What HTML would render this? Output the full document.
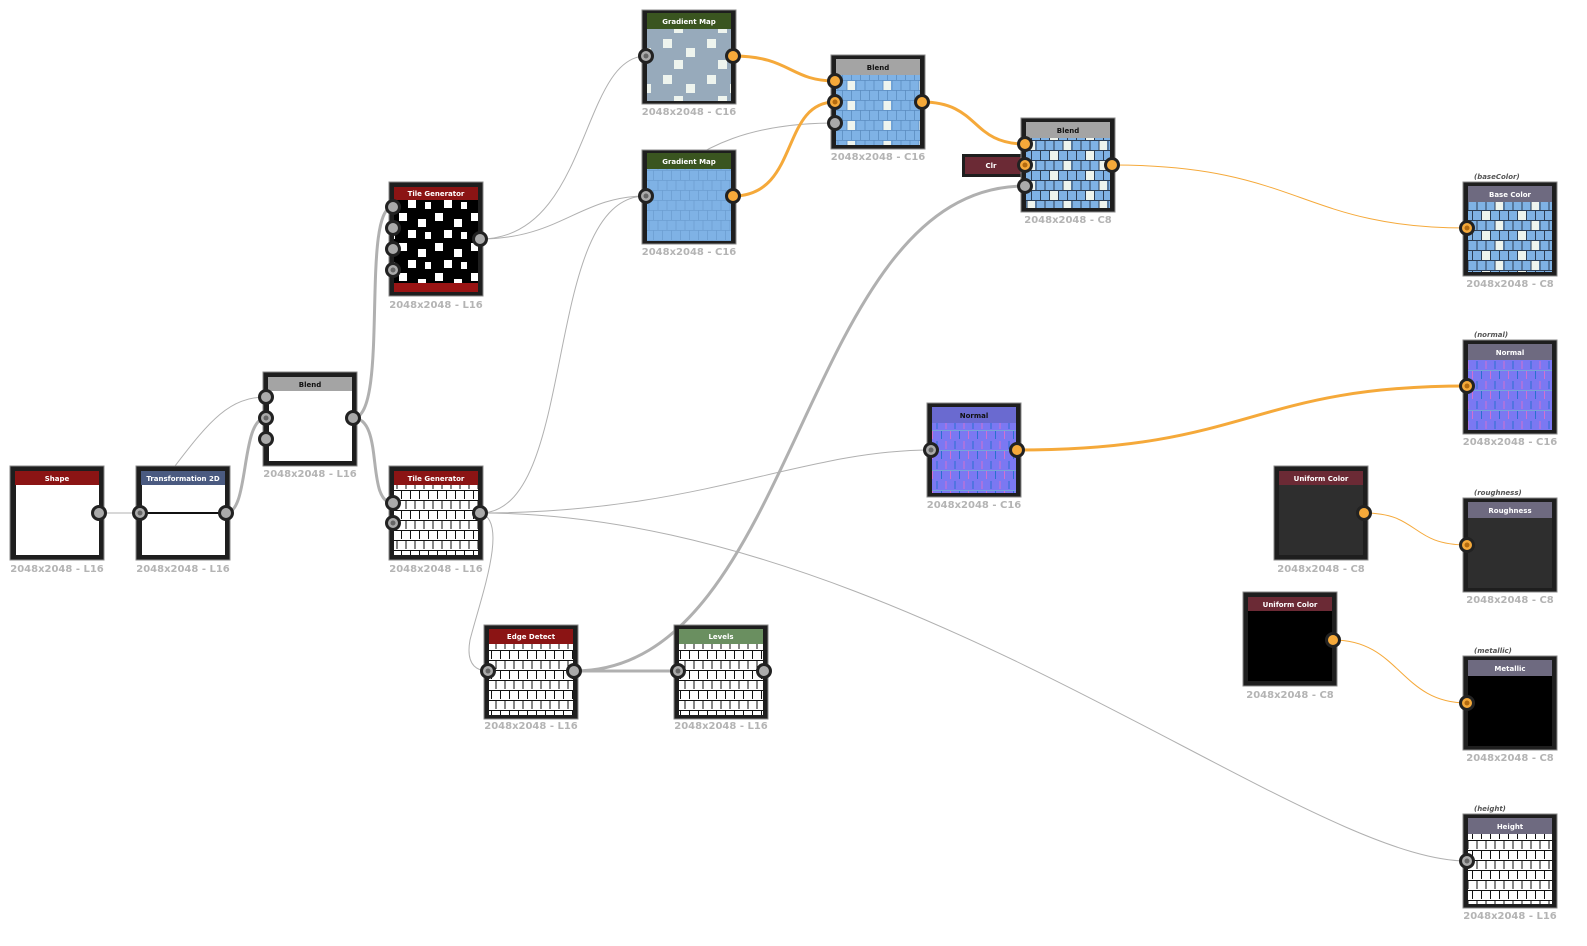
<!DOCTYPE html>
<html><head><meta charset="utf-8"><style>
html,body{margin:0;padding:0;background:#fff;width:1587px;height:946px;overflow:hidden}
svg{display:block;font-family:"DejaVu Sans","Liberation Sans",sans-serif}
.h{font-size:7px;font-weight:bold;fill:#fff;text-anchor:middle}
.hd{font-size:7px;font-weight:bold;fill:#111;text-anchor:middle}
.lb{font-size:10px;font-weight:bold;fill:#b4b4b4;text-anchor:middle}
.ol{font-size:7px;font-style:italic;font-weight:bold;fill:#555;}
.p{fill:#aaa;stroke:#222;stroke-width:3}
.po{fill:#f5a93a;stroke:#222;stroke-width:3}
.dot{fill:#666}
.doto{fill:#b26a10}
.tg{fill:none;stroke:#b0b0b0;stroke-width:1}
.TG{fill:none;stroke:#b0b0b0;stroke-width:3}
.to{fill:none;stroke:#f5a93a;stroke-width:1}
.TO{fill:none;stroke:#f5a93a;stroke-width:3}
.fr{fill:#1e1e1e;stroke:#888;stroke-width:1}
</style></head><body>
<svg width="1587" height="946" viewBox="0 0 1587 946">
<defs>
<pattern id="bw" width="18" height="20" patternUnits="userSpaceOnUse">
<rect width="18" height="20" fill="#fff"/>
<path d="M0 0.5H18M0 10.5H18M1 0V9M10 0V9M5.5 10V19M14.5 10V19" stroke="#111" stroke-width="1"/>
</pattern>
<pattern id="bb" width="36" height="20" patternUnits="userSpaceOnUse">
<rect width="36" height="20" fill="#7fb2e5"/>
<rect x="19" y="1" width="8" height="9" fill="#eef4ee"/>
<rect x="6" y="11" width="8" height="9" fill="#eef4ee"/>
<path d="M0 0.5H36M0 10.5H36M1 0V10M10 0V10M19 0V10M28 0V10M5.5 10V20M14.5 10V20M23.5 10V20M32.5 10V20" stroke="#2c3e55" stroke-width="1"/>
</pattern>
<pattern id="bb2" width="36" height="20" patternUnits="userSpaceOnUse">
<rect width="36" height="20" fill="#7fb2e5"/>
<rect x="19" y="1" width="8" height="9" fill="#eef4ee"/>
<path d="M0 0.5H36M0 10.5H36M1 0V10M10 0V10M19 0V10M28 0V10M5.5 10V20M14.5 10V20M23.5 10V20M32.5 10V20" stroke="#5b8cc0" stroke-width="0.8"/>
</pattern>
<pattern id="gmb" width="36" height="20" patternUnits="userSpaceOnUse">
<rect width="36" height="20" fill="#7fb2e5"/>
<path d="M0 0.5H36M0 10.5H36M1 0V10M10 0V10M19 0V10M28 0V10M5.5 10V20M14.5 10V20M23.5 10V20M32.5 10V20" stroke="#6c9ed2" stroke-width="0.8"/>
</pattern>
<pattern id="gg" width="44" height="36" patternUnits="userSpaceOnUse">
<rect width="44" height="36" fill="#97aabb"/>
<rect x="3" y="3" width="9" height="9" fill="#eef4ee"/>
<rect x="26" y="12" width="9" height="9" fill="#eef4ee"/>
<rect x="14" y="24" width="9" height="9" fill="#eef4ee"/>
</pattern>
<pattern id="bk" width="36" height="30" patternUnits="userSpaceOnUse">
<rect width="36" height="30" fill="#000"/>
<rect x="3" y="3" width="8" height="8" fill="#fff"/>
<rect x="22" y="9" width="8" height="8" fill="#fff"/>
<rect x="12" y="20" width="8" height="8" fill="#fff"/>
<rect x="29" y="22" width="6" height="7" fill="#fff"/>
</pattern>
<pattern id="nm" width="18" height="20" patternUnits="userSpaceOnUse">
<rect width="18" height="20" fill="#7b78f2"/>
<path d="M1 1V9M5.5 11V19" stroke="#2a6fd0" stroke-width="1"/>
<path d="M10 1V9M14.5 11V19" stroke="#d070d0" stroke-width="1"/>
<path d="M0 10.5H18" stroke="#70d0c0" stroke-width="0.6"/>
</pattern>
</defs>

<!-- edges -->
<path class="tg" d="M99 513 C120 513,120 513,140 513"/>
<path class="tg" d="M175 466 C210 420,230 397,266 397"/>
<path class="TG" d="M226 513 C250 513,240 418,266 418"/>
<path class="TG" d="M353 418 C390 418,360 207,393 207"/>
<path class="TG" d="M353 418 C385 418,365 503,393 503"/>
<path class="tg" d="M480 239 C590 239,580 56,646 56"/>
<path class="tg" d="M480 239 C560 239,580 196,646 196"/>
<path class="tg" d="M480 513 C580 513,540 196,646 196"/>
<path class="tg" d="M646 196 C700 140,760 123,835 123"/>
<path class="tg" d="M480 513 C700 513,800 450,931 450"/>
<path class="tg" d="M480 513 C900 513,1300 861,1467 861"/>
<path class="tg" d="M480 513 C510 520,480 600,470 640 C465 668,480 671,488 671"/>
<path class="TG" d="M574 671 C620 671,640 671,678 671"/>
<path class="TG" d="M574 671 C800 671,800 186,1025 186"/>
<path class="TO" d="M733 56 C790 56,790 81,835 81"/>
<path class="TO" d="M733 196 C800 196,780 102,835 102"/>
<path class="TO" d="M922 102 C980 102,970 144,1025 144"/>
<path class="to" d="M1112 165 C1300 165,1300 228,1467 228"/>
<path class="TO" d="M1017 450 C1250 450,1250 386,1467 386"/>
<path class="to" d="M1364 513 C1420 513,1410 545,1467 545"/>
<path class="to" d="M1333 640 C1400 640,1400 703,1467 703"/>

<!-- Shape -->
<rect class="fr" x="10" y="466" width="94" height="94"/>
<rect x="15" y="471" width="84" height="14" fill="#8b1414"/>
<text class="h" x="57" y="481">Shape</text>
<rect x="16" y="485" width="83" height="70" fill="#fff"/>
<text class="lb" x="57" y="572">2048x2048 - L16</text>
<!-- T2D -->
<rect class="fr" x="136" y="466" width="94" height="94"/>
<rect x="141" y="471" width="84" height="14" fill="#4a5a80"/>
<text class="h" x="183" y="481">Transformation 2D</text>
<rect x="142" y="485" width="83" height="70" fill="#fff"/>
<path d="M142 513H225" stroke="#111" stroke-width="2"/>
<text class="lb" x="183" y="572">2048x2048 - L16</text>
<!-- Blend1 -->
<rect class="fr" x="263" y="372" width="94" height="94"/>
<rect x="268" y="377" width="84" height="14" fill="#a4a4a4"/>
<text class="hd" x="310" y="387">Blend</text>
<rect x="269" y="391" width="83" height="70" fill="#fff"/>
<text class="lb" x="310" y="477">2048x2048 - L16</text>
<!-- TG1 -->
<rect class="fr" x="389" y="182" width="94" height="114"/>
<rect x="394" y="187" width="84" height="13" fill="#8b1414"/>
<text class="h" x="436" y="196">Tile Generator</text>
<rect x="394" y="200" width="84" height="83" fill="url(#bk)"/>
<rect x="394" y="283" width="84" height="9" fill="#9a1414"/>
<text class="lb" x="436" y="308">2048x2048 - L16</text>
<!-- TG2 -->
<rect class="fr" x="389" y="466" width="94" height="94"/>
<rect x="394" y="471" width="84" height="14" fill="#8b1414"/>
<text class="h" x="436" y="481">Tile Generator</text>
<rect x="394" y="485" width="84" height="70" fill="url(#bw)"/>
<text class="lb" x="436" y="572">2048x2048 - L16</text>
<!-- GM1 -->
<rect class="fr" x="642" y="10" width="94" height="94"/>
<rect x="647" y="13" width="84" height="16" fill="#3a5520"/>
<text class="h" x="689" y="24">Gradient Map</text>
<rect x="647" y="29" width="84" height="72" fill="url(#gg)"/>
<text class="lb" x="689" y="115">2048x2048 - C16</text>
<!-- GM2 -->
<rect class="fr" x="642" y="150" width="94" height="94"/>
<rect x="647" y="153" width="84" height="16" fill="#3a5520"/>
<text class="h" x="689" y="164">Gradient Map</text>
<rect x="647" y="169" width="84" height="72" fill="url(#gmb)"/>
<text class="lb" x="689" y="255">2048x2048 - C16</text>
<!-- Blend2 -->
<rect class="fr" x="831" y="55" width="94" height="94"/>
<rect x="836" y="59" width="84" height="16" fill="#a4a4a4"/>
<text class="hd" x="878" y="70">Blend</text>
<rect x="836" y="75" width="84" height="70" fill="url(#bb2)"/>
<text class="lb" x="878" y="160">2048x2048 - C16</text>
<!-- Blend3 -->
<rect x="962" y="154" width="62" height="23" fill="#1e1e1e"/>
<rect x="965" y="157" width="56" height="17" fill="#6b2a35"/>
<text class="h" x="991" y="168">Clr</text>
<rect class="fr" x="1021" y="118" width="94" height="94"/>
<rect x="1026" y="122" width="84" height="16" fill="#a4a4a4"/>
<text class="hd" x="1068" y="133">Blend</text>
<rect x="1026" y="138" width="84" height="70" fill="url(#bb)"/>
<text class="lb" x="1068" y="223">2048x2048 - C8</text>
<!-- Normal mid -->
<rect class="fr" x="927" y="403" width="94" height="94"/>
<rect x="932" y="407" width="84" height="16" fill="#6a6ad0"/>
<text class="hd" x="974" y="418">Normal</text>
<rect x="932" y="423" width="84" height="70" fill="url(#nm)"/>
<text class="lb" x="974" y="508">2048x2048 - C16</text>
<!-- Edge detect -->
<rect class="fr" x="484" y="625" width="94" height="94"/>
<rect x="489" y="629" width="84" height="15" fill="#8b1414"/>
<text class="h" x="531" y="639">Edge Detect</text>
<rect x="489" y="644" width="84" height="71" fill="url(#bw)"/>
<text class="lb" x="531" y="729">2048x2048 - L16</text>
<!-- Levels -->
<rect class="fr" x="674" y="625" width="94" height="94"/>
<rect x="679" y="629" width="84" height="15" fill="#6a8f60"/>
<text class="h" x="721" y="639">Levels</text>
<rect x="679" y="644" width="84" height="71" fill="url(#bw)"/>
<text class="lb" x="721" y="729">2048x2048 - L16</text>
<!-- UC1 -->
<rect class="fr" x="1274" y="466" width="94" height="94"/>
<rect x="1279" y="471" width="84" height="14" fill="#6b2a35"/>
<text class="h" x="1321" y="481">Uniform Color</text>
<rect x="1279" y="485" width="84" height="70" fill="#2e2e2e"/>
<text class="lb" x="1321" y="572">2048x2048 - C8</text>
<!-- UC2 -->
<rect class="fr" x="1243" y="592" width="94" height="94"/>
<rect x="1248" y="597" width="84" height="14" fill="#6b2a35"/>
<text class="h" x="1290" y="607">Uniform Color</text>
<rect x="1248" y="611" width="84" height="70" fill="#000"/>
<text class="lb" x="1290" y="698">2048x2048 - C8</text>

<!-- Outputs -->
<text class="ol" x="1474" y="179">(baseColor)</text>
<rect class="fr" x="1463" y="182" width="94" height="94"/>
<rect x="1468" y="186" width="84" height="16" fill="#6e6a80"/>
<text class="h" x="1510" y="197">Base Color</text>
<rect x="1468" y="202" width="84" height="70" fill="url(#bb)"/>
<text class="lb" x="1510" y="287">2048x2048 - C8</text>

<text class="ol" x="1474" y="337">(normal)</text>
<rect class="fr" x="1463" y="340" width="94" height="94"/>
<rect x="1468" y="344" width="84" height="16" fill="#6e6a80"/>
<text class="h" x="1510" y="355">Normal</text>
<rect x="1468" y="360" width="84" height="70" fill="url(#nm)"/>
<text class="lb" x="1510" y="445">2048x2048 - C16</text>

<text class="ol" x="1474" y="495">(roughness)</text>
<rect class="fr" x="1463" y="498" width="94" height="94"/>
<rect x="1468" y="502" width="84" height="16" fill="#6e6a80"/>
<text class="h" x="1510" y="513">Roughness</text>
<rect x="1468" y="518" width="84" height="70" fill="#2e2e2e"/>
<text class="lb" x="1510" y="603">2048x2048 - C8</text>

<text class="ol" x="1474" y="653">(metallic)</text>
<rect class="fr" x="1463" y="656" width="94" height="94"/>
<rect x="1468" y="660" width="84" height="16" fill="#6e6a80"/>
<text class="h" x="1510" y="671">Metallic</text>
<rect x="1468" y="676" width="84" height="70" fill="#000"/>
<text class="lb" x="1510" y="761">2048x2048 - C8</text>

<text class="ol" x="1474" y="811">(height)</text>
<rect class="fr" x="1463" y="814" width="94" height="94"/>
<rect x="1468" y="818" width="84" height="16" fill="#6e6a80"/>
<text class="h" x="1510" y="829">Height</text>
<rect x="1468" y="834" width="84" height="70" fill="url(#bw)"/>
<text class="lb" x="1510" y="919">2048x2048 - L16</text>

<!-- ports -->
<circle class="p" cx="99" cy="513" r="6.5"/>
<circle class="p" cx="140" cy="513" r="6.5"/><circle class="dot" cx="140" cy="513" r="2.5"/>
<circle class="p" cx="226" cy="513" r="6.5"/>
<circle class="p" cx="266" cy="397" r="6.5"/>
<circle class="p" cx="266" cy="418" r="6.5"/><circle class="dot" cx="266" cy="418" r="2.5"/>
<circle class="p" cx="266" cy="439" r="6.5"/>
<circle class="p" cx="353" cy="418" r="6.5"/>
<circle class="p" cx="393" cy="207" r="6.5"/>
<circle class="p" cx="393" cy="228" r="6.5"/>
<circle class="p" cx="393" cy="249" r="6.5"/>
<circle class="p" cx="393" cy="270" r="6.5"/><circle class="dot" cx="393" cy="270" r="2.5"/>
<circle class="p" cx="480" cy="239" r="6.5"/>
<circle class="p" cx="393" cy="503" r="6.5"/>
<circle class="p" cx="393" cy="523" r="6.5"/><circle class="dot" cx="393" cy="523" r="2.5"/>
<circle class="p" cx="480" cy="513" r="6.5"/>
<circle class="p" cx="646" cy="56" r="6.5"/><circle class="dot" cx="646" cy="56" r="2.5"/>
<circle class="po" cx="733" cy="56" r="6.5"/>
<circle class="p" cx="646" cy="196" r="6.5"/><circle class="dot" cx="646" cy="196" r="2.5"/>
<circle class="po" cx="733" cy="196" r="6.5"/>
<circle class="po" cx="835" cy="81" r="6.5"/>
<circle class="po" cx="835" cy="102" r="6.5"/><circle class="doto" cx="835" cy="102" r="2.5"/>
<circle class="p" cx="835" cy="123" r="6.5"/>
<circle class="po" cx="922" cy="102" r="6.5"/>
<circle class="po" cx="1025" cy="144" r="6.5"/>
<circle class="po" cx="1025" cy="165" r="6.5"/><circle class="doto" cx="1025" cy="165" r="2.5"/>
<circle class="p" cx="1025" cy="186" r="6.5"/>
<circle class="po" cx="1112" cy="165" r="6.5"/>
<circle class="p" cx="931" cy="450" r="6.5"/><circle class="dot" cx="931" cy="450" r="2.5"/>
<circle class="po" cx="1017" cy="450" r="6.5"/>
<circle class="p" cx="488" cy="671" r="6.5"/><circle class="dot" cx="488" cy="671" r="2.5"/>
<circle class="p" cx="574" cy="671" r="6.5"/>
<circle class="p" cx="678" cy="671" r="6.5"/><circle class="dot" cx="678" cy="671" r="2.5"/>
<circle class="p" cx="764" cy="671" r="6.5"/>
<circle class="po" cx="1364" cy="513" r="6.5"/>
<circle class="po" cx="1333" cy="640" r="6.5"/>
<circle class="po" cx="1467" cy="228" r="6.5"/><circle class="doto" cx="1467" cy="228" r="2.5"/>
<circle class="po" cx="1467" cy="386" r="6.5"/><circle class="doto" cx="1467" cy="386" r="2.5"/>
<circle class="po" cx="1467" cy="545" r="6.5"/><circle class="doto" cx="1467" cy="545" r="2.5"/>
<circle class="po" cx="1467" cy="703" r="6.5"/><circle class="doto" cx="1467" cy="703" r="2.5"/>
<circle class="p" cx="1467" cy="861" r="6.5"/><circle class="dot" cx="1467" cy="861" r="2.5"/>
</svg>
</body></html>
